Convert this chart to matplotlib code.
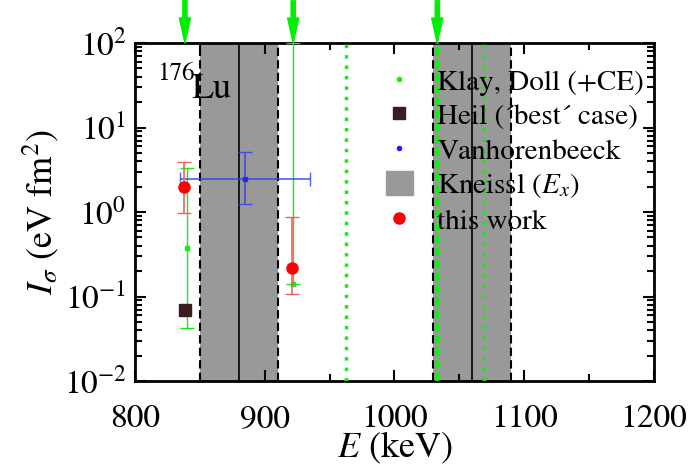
import matplotlib
matplotlib.use('Agg')
import matplotlib.pyplot as plt
from matplotlib.lines import Line2D
from matplotlib.patches import Patch

plt.rcParams['font.family'] = ['STIXGeneral', 'DejaVu Serif']
plt.rcParams['mathtext.fontset'] = 'stix'

# Klay, Doll (+CE)
klay_E = [840, 922]
klay_I = [0.38, 0.14]
klay_lo = [0.043, 0.14]
klay_hi = [3.3, 100]
klay_dotted = [963, 1069]
klay_dashed = [1032.5]
arrows_E = [838.6, 922, 1033]

# Heil ('best' case)
heil_E = [838.5]
heil_I = [0.069]

# Vanhorenbeeck
vh_E = [885]
vh_dE = [50]
vh_I = [2.44]
vh_lo = [1.24]
vh_hi = [5.13]

# Kneissl (E_x)
kn_E = [880, 1060]
kn_dE = [30, 30]

# this work
tw_E = [838, 920.7]
tw_I = [1.96, 0.217]
tw_lo = [0.98, 0.108]
tw_hi = [3.9, 0.865]

green = '#11ee11'
heil_c = '#3d1c1f'

fig = plt.figure(figsize=(6.88, 4.71), dpi=100)
ax = fig.add_axes([0.196, 0.191, 0.7546, 0.7177])
ax.set_yscale('log')
ax.set_xlim(800, 1200)
ax.set_ylim(1e-2, 1e2)

for e, de in zip(kn_E, kn_dE):
    ax.axvspan(e - de, e + de, color='#999999', lw=0, zorder=1)
    ax.axvline(e - de, color='k', ls=(0, (4, 2)), lw=1.5, zorder=2)
    ax.axvline(e + de, color='k', ls=(0, (4, 2)), lw=1.5, zorder=2)
    ax.axvline(e, color='k', lw=1.2, zorder=2)

for e in klay_dotted:
    ax.axvline(e, color=green, ls=(0, (1, 2)), lw=2.5, zorder=3)
for e in klay_dashed:
    ax.axvline(e, color=green, ls=(0, (2, 1)), lw=3, zorder=3)

yerr = [[i - l for i, l in zip(klay_I, klay_lo)], [h - i for i, h in zip(klay_I, klay_hi)]]
ax.errorbar(klay_E, klay_I, yerr=yerr, fmt='s', ms=3, color=green, lw=1, capsize=5, zorder=4)

ax.plot(heil_E, heil_I, 's', ms=9, color=heil_c, zorder=5)

yerr = [[i - l for i, l in zip(vh_I, vh_lo)], [h - i for i, h in zip(vh_I, vh_hi)]]
ax.errorbar(vh_E, vh_I, xerr=vh_dE, yerr=yerr, fmt='s', ms=3, color='#2020ee', ecolor='#3344ee',
            lw=1.2, capsize=5, alpha=0.85, zorder=5)

yerr = [[i - l for i, l in zip(tw_I, tw_lo)], [h - i for i, h in zip(tw_I, tw_hi)]]
ax.errorbar(tw_E, tw_I, yerr=yerr, fmt='none', ecolor='#f06060', lw=1.2, capsize=5, zorder=5)
ax.plot(tw_E, tw_I, 'o', ms=8, color='red', zorder=6)

for e in arrows_E:
    ax.annotate('', xy=(e, 1.0), xycoords=('data', 'axes fraction'),
                xytext=(e, 1.125), textcoords=('data', 'axes fraction'),
                arrowprops=dict(color='#00ee00', width=3, headwidth=8, headlength=18, shrink=0),
                annotation_clip=False)

xt = ax.get_xaxis_transform()
ax.text(817.5, 0.8905, '176', fontsize=18, ha='left', va='baseline', transform=xt, zorder=7)
ax.text(844, 0.837, 'Lu', fontsize=26, ha='left', va='baseline', transform=xt, zorder=7)

ax.set_xticks([800, 900, 1000, 1100, 1200])
ax.set_xticks([850, 950, 1050, 1150], minor=True)
ax.tick_params(which='both', direction='in', top=True, right=True, labelsize=24, width=1.5)
ax.tick_params(which='major', length=8)
ax.tick_params(which='minor', length=5)
ax.tick_params(axis='x', which='major', pad=17)
ax.tick_params(axis='y', which='major', pad=6)
for s in ax.spines.values():
    s.set_linewidth(2)

ax.set_xlabel(r'$E$ (keV)', fontsize=26, labelpad=-3)
ax.set_ylabel(r'$I_\sigma$ (eV fm$^2$)', fontsize=26, labelpad=2)

handles = [
    Line2D([], [], ls='none', marker='o', ms=3, color=green),
    Line2D([], [], ls='none', marker='s', ms=9, color=heil_c),
    Line2D([], [], ls='none', marker='o', ms=3, color='#2020ee'),
    Patch(color='#999999'),
    Line2D([], [], ls='none', marker='o', ms=8, color='red'),
]
labels = ['Klay, Doll (+CE)', "Heil (\u00b4best\u00b4 case)", 'Vanhorenbeeck',
          r'Kneissl ($E_x$)', 'this work']
leg = ax.legend(handles, labels, loc='upper left', bbox_to_anchor=(0.462, 0.962), frameon=False,
                fontsize=21, handlelength=0.9, handletextpad=0.85, labelspacing=0.22,
                borderaxespad=0, handleheight=0.9)
leg.set_zorder(10)

fig.savefig('out.png', dpi=100)
